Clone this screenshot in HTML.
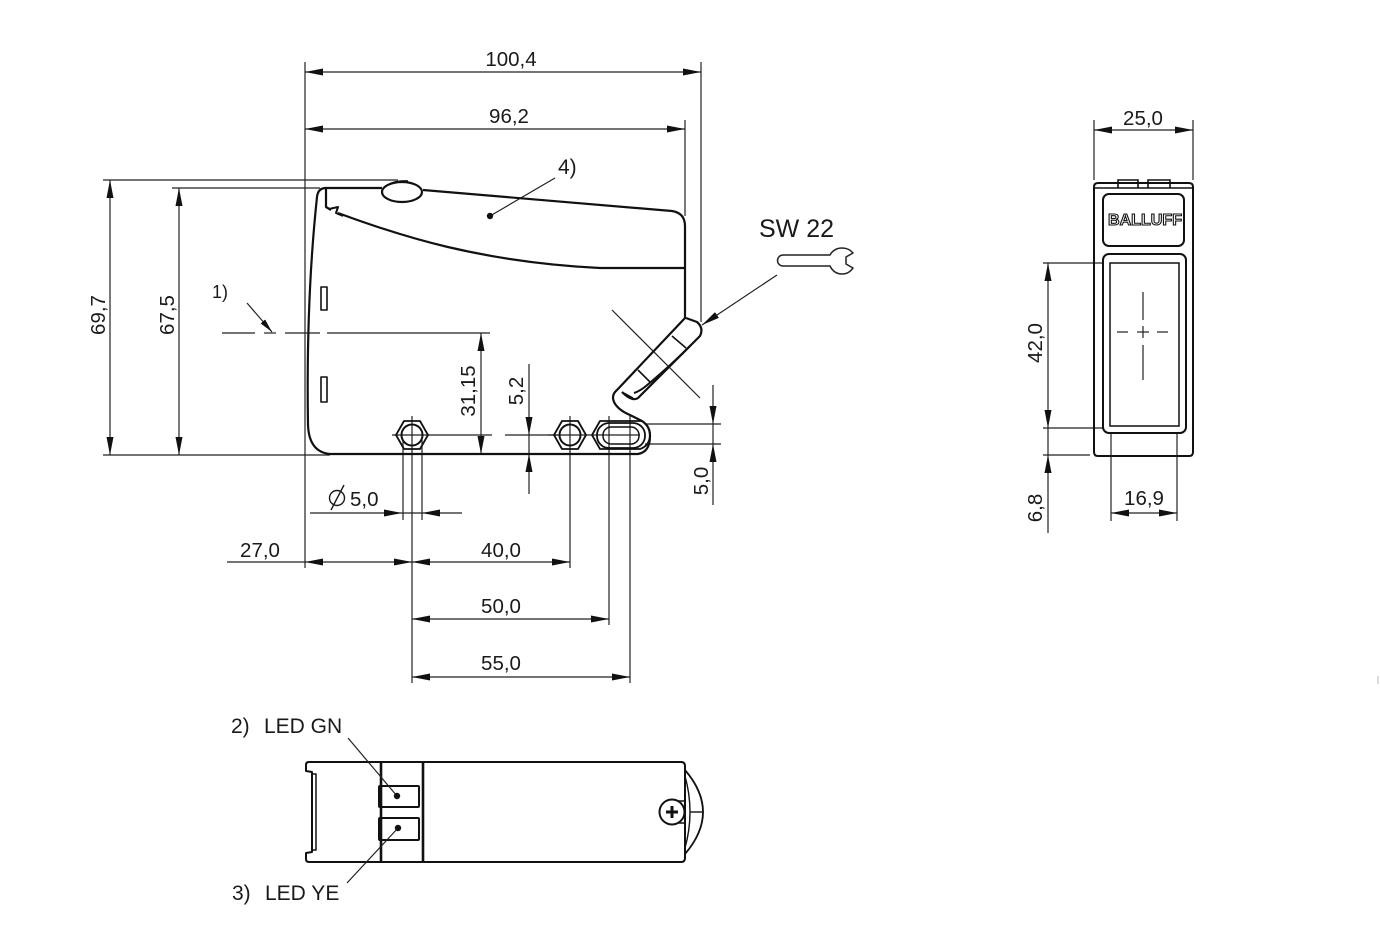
<!DOCTYPE html>
<html><head><meta charset="utf-8"><style>
html,body{margin:0;padding:0;background:#fff;}
svg{display:block;}
text{font-family:"Liberation Sans",Arial,sans-serif;fill:#1a1a1a;}
</style></head><body>
<svg width="1380" height="946" viewBox="0 0 1380 946" xmlns="http://www.w3.org/2000/svg">
<defs>
<marker id="a" viewBox="0 0 18 7" refX="18" refY="3.5" markerWidth="18" markerHeight="7" markerUnits="userSpaceOnUse" orient="auto-start-reverse"><path d="M0,0L18,3.5L0,7z" fill="#111"/></marker>
<marker id="s" viewBox="0 0 14 6" refX="14" refY="3" markerWidth="14" markerHeight="6" markerUnits="userSpaceOnUse" orient="auto"><path d="M0,0L14,3L0,6z" fill="#111"/></marker>
</defs>
<rect width="1380" height="946" fill="#fff"/>

<!-- ============ MAIN SIDE VIEW ============ -->
<g stroke="#222" stroke-width="1.2" fill="none">
  <line x1="305" y1="62" x2="305" y2="568"/>
  <line x1="701" y1="62" x2="701" y2="322"/>
  <line x1="685" y1="120" x2="685" y2="216"/>
  <line x1="103" y1="180" x2="398" y2="180"/>
  <line x1="172" y1="188" x2="320" y2="188"/>
  <line x1="103" y1="455" x2="330" y2="455"/>
  <line x1="305" y1="72" x2="701" y2="72" marker-start="url(#a)" marker-end="url(#a)"/>
  <line x1="305" y1="129" x2="685" y2="129" marker-start="url(#a)" marker-end="url(#a)"/>
  <line x1="110" y1="180" x2="110" y2="455" marker-start="url(#a)" marker-end="url(#a)"/>
  <line x1="179" y1="188" x2="179" y2="455" marker-start="url(#a)" marker-end="url(#a)"/>
  <line x1="481" y1="333" x2="481" y2="454" marker-start="url(#a)" marker-end="url(#a)"/>
  <line x1="529" y1="364" x2="529" y2="435" marker-end="url(#a)"/>
  <line x1="529" y1="435" x2="529" y2="454"/>
  <line x1="529" y1="494" x2="529" y2="454" marker-end="url(#a)"/>
  <line x1="713" y1="385" x2="713" y2="424" marker-end="url(#a)"/>
  <line x1="713" y1="424" x2="713" y2="444"/>
  <line x1="713" y1="505" x2="713" y2="444" marker-end="url(#a)"/>
  <line x1="645" y1="424" x2="721" y2="424"/>
  <line x1="645" y1="444" x2="721" y2="444"/>
  <line x1="222" y1="333" x2="255" y2="333"/>
  <line x1="264" y1="333" x2="276" y2="333"/>
  <line x1="285" y1="333" x2="320" y2="333"/>
  <line x1="327" y1="333" x2="490" y2="333"/>
  <line x1="392" y1="435" x2="492" y2="435"/>
  <line x1="505" y1="435" x2="560" y2="435"/>
  <line x1="548" y1="435" x2="640" y2="435"/>
  <line x1="412" y1="416" x2="412" y2="683"/>
  <line x1="403" y1="440" x2="403" y2="520"/>
  <line x1="422" y1="440" x2="422" y2="520"/>
  <line x1="570" y1="416" x2="570" y2="568"/>
  <line x1="609" y1="416" x2="609" y2="625"/>
  <line x1="630" y1="416" x2="630" y2="683"/>
  <line x1="310" y1="513" x2="402" y2="513" marker-end="url(#a)"/>
  <line x1="402" y1="513" x2="422" y2="513"/>
  <line x1="462" y1="513" x2="422" y2="513" marker-end="url(#a)"/>
  <line x1="227" y1="562" x2="305" y2="562"/>
  <line x1="305" y1="562" x2="412" y2="562" marker-start="url(#a)" marker-end="url(#a)"/>
  <line x1="412" y1="562" x2="570" y2="562" marker-start="url(#a)" marker-end="url(#a)"/>
  <line x1="412" y1="619" x2="609" y2="619" marker-start="url(#a)" marker-end="url(#a)"/>
  <line x1="412" y1="677" x2="630" y2="677" marker-start="url(#a)" marker-end="url(#a)"/>
  <line x1="247" y1="303" x2="272" y2="332" marker-end="url(#s)"/>
  <line x1="555" y1="178" x2="490" y2="216"/>
  <line x1="612" y1="310" x2="700" y2="398"/>
  <line x1="777" y1="275" x2="702" y2="325" marker-end="url(#a)"/>
</g>
<circle cx="490" cy="216" r="3.2" fill="#111"/>

<g stroke="#111" stroke-width="2.2" fill="none" stroke-linejoin="round">
  <path d="M382,188 L326,188 Q318,188 317,197 Q306,300 308,425 Q309,452 330,454 L638,454 Q650,452 650,436 Q650,426 642,421 L630,415 Q618,410 614,402 Q611,395 617,390 L685,318 L685,226 Q685,213 672,211 L423,190"/>
  <ellipse cx="402" cy="192" rx="20" ry="10"/>
  <path d="M384,188 Q392,180 408,181" stroke-width="1.5"/>
  <path d="M326,189 L326,207 L331,210"/>
  <path d="M338,213 C400,236 480,262 600,268 L685,268"/>
  <path d="M329,209 L338,207 L336,213 L343,216" stroke-width="2"/>
  <path d="M686,318 L697,322 Q704,328 700,336 L638,398 Q632,402 622,392"/>
  <path d="M690,346 Q668,368 646,386 Q640,391 634,393" stroke-width="2"/>
  <line x1="672" y1="336" x2="686" y2="348" stroke-width="1.6"/>
  <line x1="638" y1="370" x2="650" y2="382" stroke-width="1.6"/>
  <line x1="622" y1="392" x2="633" y2="398" stroke-width="1.5"/>
  <rect x="321" y="287" width="6" height="23" stroke-width="1.6"/>
  <rect x="321" y="377" width="6" height="25" stroke-width="1.6"/>
  <polygon points="396,435 404,421 420,421 428,435 420,449 404,449" stroke-width="1.8"/>
  <circle cx="412" cy="435" r="10.5" stroke-width="2"/>
  <polygon points="554,435 562,421 578,421 586,435 578,449 562,449" stroke-width="1.8"/>
  <circle cx="570" cy="435" r="10.5" stroke-width="2"/>
  <path d="M592,435 L600,421 L642,421 Q651,428 650,436 Q649,446 640,449 L600,449 Z" stroke-width="1.8"/>
  <rect x="597" y="423" width="48" height="25" rx="12" stroke-width="1.8"/>
  <rect x="603" y="427" width="36" height="17" rx="8" stroke-width="1.5"/>
</g>

<!-- wrench -->
<g stroke="#222" stroke-width="1.5" fill="none" stroke-linejoin="round">
  <path d="M783,255 L830,255 Q834,248 842,248 Q849,248 853,253 L846,257 L846,264 L853,268 Q849,274 842,274 Q834,274 830,266 L783,266 A5.5,5.5 0 0 1 783,255 Z"/>
</g>

<g font-size="20.5" text-anchor="middle">
  <text x="511" y="66">100,4</text>
  <text x="509" y="123">96,2</text>
  <text x="260" y="557">27,0</text>
  <text x="501" y="557">40,0</text>
  <text x="501" y="613">50,0</text>
  <text x="501" y="670">55,0</text>
  <text transform="translate(105,315) rotate(-90)">69,7</text>
  <text transform="translate(174,315) rotate(-90)">67,5</text>
  <text transform="translate(475,391) rotate(-90)">31,15</text>
  <text transform="translate(523,391) rotate(-90)">5,2</text>
  <text transform="translate(708,481) rotate(-90)">5,0</text>
</g>
<text x="350" y="506" font-size="20.5">5,0</text>
<g stroke="#1a1a1a" stroke-width="1.4" fill="none">
  <circle cx="337" cy="498" r="7.5"/>
  <line x1="331" y1="510" x2="344" y2="485"/>
</g>
<text x="212" y="298" font-size="18">1)</text>
<text x="558" y="174" font-size="21">4)</text>
<text x="759" y="237" font-size="25">SW 22</text>

<!-- ============ RIGHT FRONT VIEW ============ -->
<g stroke="#222" stroke-width="1.2" fill="none">
  <line x1="1094" y1="120" x2="1094" y2="180"/>
  <line x1="1193" y1="120" x2="1193" y2="180"/>
  <line x1="1094" y1="130" x2="1193" y2="130" marker-start="url(#a)" marker-end="url(#a)"/>
  <line x1="1043" y1="263" x2="1103" y2="263"/>
  <line x1="1043" y1="428" x2="1103" y2="428"/>
  <line x1="1043" y1="455" x2="1090" y2="455"/>
  <line x1="1048" y1="263" x2="1048" y2="428" marker-start="url(#a)" marker-end="url(#a)"/>
  <line x1="1048" y1="428" x2="1048" y2="455"/>
  <line x1="1048" y1="533" x2="1048" y2="455" marker-end="url(#a)"/>
  <line x1="1111" y1="433" x2="1111" y2="521"/>
  <line x1="1177" y1="433" x2="1177" y2="521"/>
  <line x1="1111" y1="513" x2="1177" y2="513" marker-start="url(#a)" marker-end="url(#a)"/>
  <line x1="1143" y1="292" x2="1143" y2="320"/>
  <line x1="1143" y1="326" x2="1143" y2="338"/>
  <line x1="1143" y1="345" x2="1143" y2="380"/>
  <line x1="1117" y1="332" x2="1128" y2="332"/>
  <line x1="1137" y1="332" x2="1149" y2="332"/>
  <line x1="1157" y1="332" x2="1168" y2="332"/>
</g>
<g stroke="#111" stroke-width="2" fill="none">
  <path d="M1098,183 L1189,183 Q1193,183 1193,187 L1193,452 Q1193,456 1189,456 L1098,456 Q1094,456 1094,452 L1094,187 Q1094,183 1098,183 Z"/>
  <line x1="1094" y1="188" x2="1193" y2="188" stroke-width="1.5"/>
  <path d="M1118,188 L1118,180 L1138,180 L1138,188" stroke-width="1.6"/>
  <path d="M1148,188 L1148,180 L1170,180 L1170,188" stroke-width="1.6"/>
  <rect x="1103" y="194" width="81" height="52" rx="6"/>
  <rect x="1103" y="254" width="83" height="179" rx="6"/>
  <rect x="1110" y="263" width="69" height="163" stroke-width="1.5"/>
</g>
<text x="1145" y="225" font-size="16" font-weight="bold" text-anchor="middle" textLength="74" lengthAdjust="spacingAndGlyphs" style="fill:#fff;stroke:#111;stroke-width:1.1">BALLUFF</text>
<g font-size="20.5" text-anchor="middle">
  <text x="1143" y="125">25,0</text>
  <text x="1144" y="505">16,9</text>
  <text transform="translate(1042,343) rotate(-90)">42,0</text>
  <text transform="translate(1042,508) rotate(-90)">6,8</text>
</g>

<!-- ============ BOTTOM VIEW ============ -->
<g stroke="#111" stroke-width="2" fill="none" stroke-linejoin="round">
  <path d="M309,762 L681,762 Q685,762 685,766 L685,858 Q685,862 681,862 L309,862 Q306,862 306,859 L306,853 L312,852 L312,772 L306,771 L306,765 Q306,762 309,762 Z"/>
  <path d="M312,774 L316,774 L316,850 L312,850" stroke-width="1.5"/>
  <line x1="381" y1="762" x2="381" y2="862" stroke-width="2.6"/>
  <line x1="423" y1="762" x2="423" y2="862" stroke-width="2.6"/>
  <rect x="379" y="786" width="40" height="21" rx="1"/>
  <rect x="379" y="818" width="40" height="22" rx="1"/>
  <path d="M685,770 Q721,812 685,854" stroke-width="1.8"/>
  <path d="M685,776 Q695,812 685,848" stroke-width="1.4"/>
  <line x1="690" y1="812" x2="702" y2="812" stroke-width="1.4"/>
  <rect x="672" y="801" width="13" height="22" stroke-width="1.6"/>
  <circle cx="672" cy="812" r="12.5" fill="#fff"/>
  <path d="M672,806 L672,818 M666,812 L678,812" stroke-width="3"/>
</g>
<g stroke="#222" stroke-width="1.2">
  <line x1="348" y1="738" x2="397" y2="796"/>
  <line x1="347" y1="883" x2="398" y2="828"/>
</g>
<circle cx="397" cy="796" r="3.2" fill="#111"/>
<circle cx="398" cy="828" r="3.2" fill="#111"/>
<g font-size="21">
  <text x="231" y="733">2)</text>
  <text x="264" y="733">LED GN</text>
  <text x="232" y="900">3)</text>
  <text x="265" y="900">LED YE</text>
</g>
<line x1="1378" y1="676" x2="1378" y2="684" stroke="#bbb" stroke-width="1"/>
</svg>
</body></html>
